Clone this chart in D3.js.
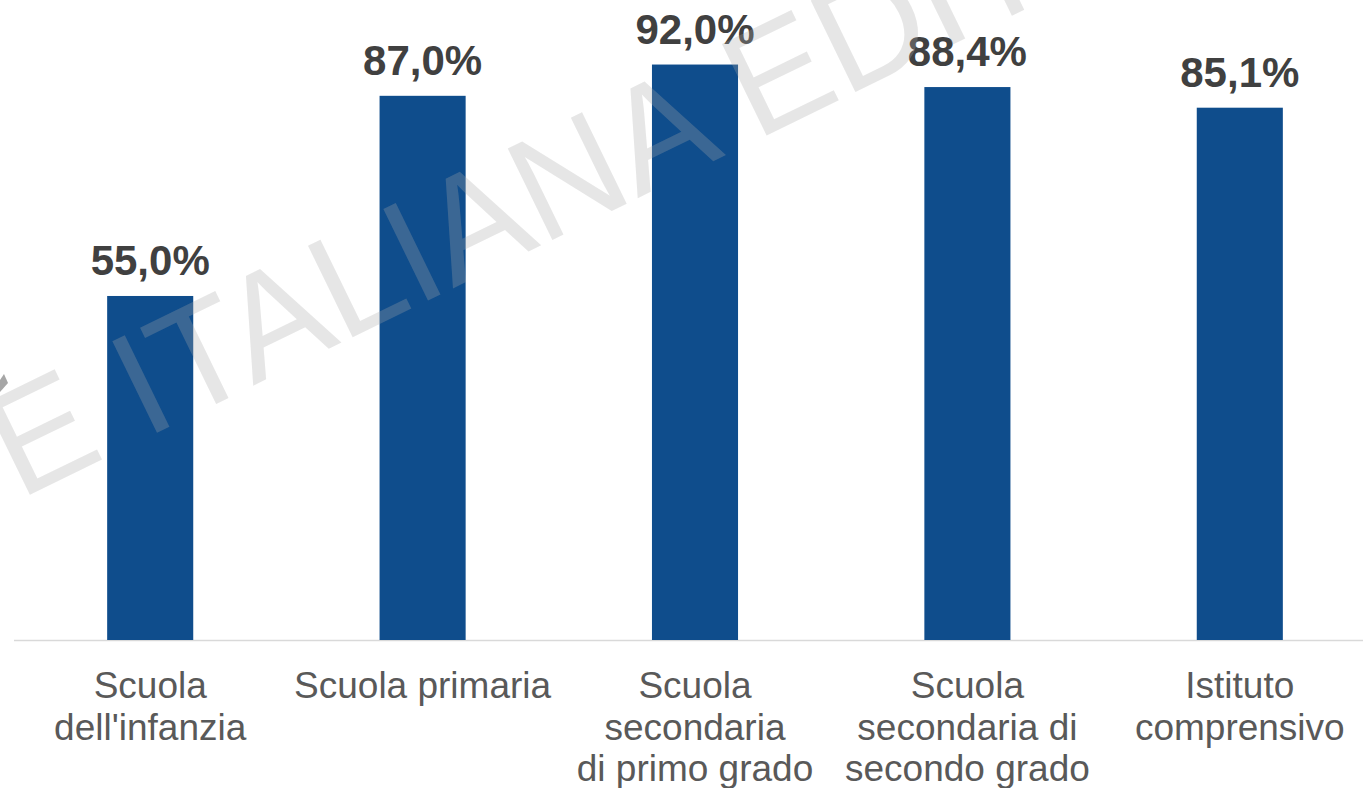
<!DOCTYPE html>
<html>
<head>
    <meta charset="utf-8">
    <title>Chart</title>
    <script src="https://d3js.org/d3.v7.min.js"></script>
    <style>
        html, body {
            margin: 0;
            padding: 0;
            background: #ffffff;
            overflow: hidden;
        }
        #chart {
            display: block;
        }
        text {
            font-family: "Liberation Sans", Arial, sans-serif;
        }
    </style>
</head>
<body>
    <svg id="chart"></svg>
    <script>
        const width = 1363;
        const height = 788;

        // data
        const categories = [
            "Scuola dell'infanzia",
            "Scuola primaria",
            "Scuola secondaria di primo grado",
            "Scuola secondaria di secondo grado",
            "Istituto comprensivo"
        ];
        const categoryLines = [
            ["Scuola", "dell'infanzia"],
            ["Scuola primaria"],
            ["Scuola", "secondaria", "di primo grado"],
            ["Scuola", "secondaria di", "secondo grado"],
            ["Istituto", "comprensivo"]
        ];
        const values = [55.0, 87.0, 92.0, 88.4, 85.1];
        const watermarkText = "E ITALIANA EDITRICE";

        const baseline = 640;
        const barColor = "#0f4d8c";

        const svg = d3.select("#chart")
            .attr("width", width)
            .attr("height", height);

        const x = d3.scaleBand()
            .domain(categories)
            .range([14, 1376])
            .paddingInner(0.684)
            .paddingOuter(0.342);

        const y = d3.scaleLinear()
            .domain([0, 100])
            .range([baseline, 14.5]);

        const fmt = v => v.toFixed(1).replace(".", ",") + "%";

        // axis line (no ticks)
        const xAxis = d3.axisBottom(x).tickSize(0).tickFormat("");
        const axisG = svg.append("g")
            .attr("transform", `translate(0,${baseline})`)
            .call(xAxis);
        axisG.select(".domain")
            .attr("d", `M14,0.5H${width}`)
            .attr("stroke", "#d9d9d9")
            .attr("stroke-width", 1.5);

        // bars
        svg.selectAll(".bar")
            .data(values)
            .enter().append("rect")
            .attr("class", "bar")
            .attr("x", (d, i) => x(categories[i]))
            .attr("y", d => y(d))
            .attr("width", x.bandwidth())
            .attr("height", d => baseline - y(d))
            .attr("fill", barColor);

        // value labels
        svg.selectAll(".value")
            .data(values)
            .enter().append("text")
            .attr("class", "value")
            .attr("x", (d, i) => x(categories[i]) + x.bandwidth() / 2)
            .attr("y", d => y(d) - 21)
            .attr("text-anchor", "middle")
            .style("font-size", "42px")
            .style("font-weight", "bold")
            .style("fill", "#404040")
            .text(d => fmt(d));

        // category labels
        const cats = svg.selectAll(".cat")
            .data(categoryLines)
            .enter().append("text")
            .attr("class", "cat")
            .attr("text-anchor", "middle")
            .style("font-size", "37px")
            .style("fill", "#595959");

        cats.selectAll("tspan")
            .data((d, i) => d.map(line => ({ line: line, i: i })))
            .enter().append("tspan")
            .attr("x", d => x(categories[d.i]) + x.bandwidth() / 2)
            .attr("y", (d, j) => 698 + j * 41.5)
            .text(d => d.line);

        // watermark over everything
        svg.append("text")
            .attr("transform", "translate(19,500) rotate(-26)")
            .style("font-size", "148px")
            .style("fill", "#a8a8a8")
            .style("fill-opacity", 0.29)
            .text(watermarkText);

        svg.append("path")
            .attr("d", "M0,380 L4,374 L8,383 L0,392 Z")
            .attr("fill", "#a6a6a6");
    </script>
</body>
</html>
